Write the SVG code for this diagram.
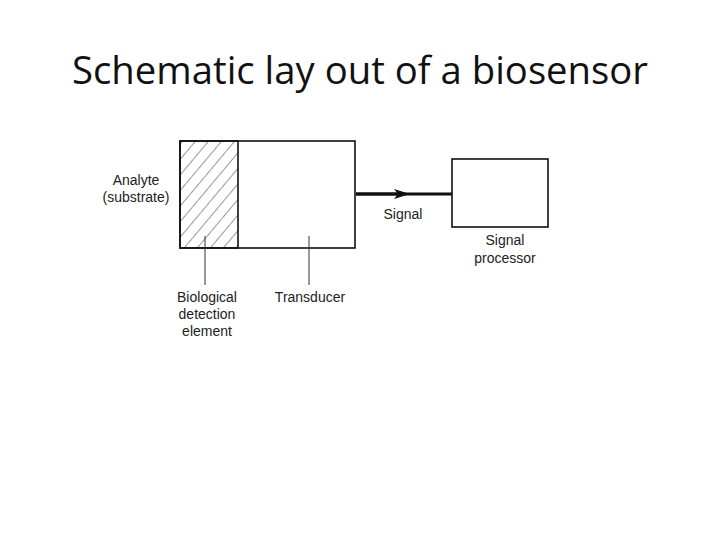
<svg xmlns="http://www.w3.org/2000/svg" width="720" height="540" viewBox="0 0 720 540">
<style>
.t{font-family:"Liberation Sans",Arial,sans-serif;font-size:14px;fill:#222}
.b{fill:none;stroke:#111;stroke-width:1.6}
.l{stroke:#333;stroke-width:1}
</style>
<defs>
<pattern id="h" width="10" height="10" patternUnits="userSpaceOnUse" patternTransform="rotate(40)">
<line x1="0" y1="0" x2="0" y2="10" stroke="#333" stroke-width="1"/>
</pattern>
<marker id="a" markerWidth="16" markerHeight="10" refX="8" refY="5" orient="auto" markerUnits="userSpaceOnUse">
<path d="M0,0 L16,5 L0,10 L4,5 Z" fill="#111"/>
</marker>
</defs>
<rect width="720" height="540" fill="#fff"/>
<text x="360" y="84" text-anchor="middle" font-family="'Open Sans','Liberation Sans',sans-serif" font-size="38" textLength="576" lengthAdjust="spacingAndGlyphs" fill="#111">Schematic lay out of a biosensor</text>
<g id="transducer">
<rect x="180" y="141" width="175" height="107" class="b"/>
<text x="310" y="302" class="t" text-anchor="middle">Transducer</text>
</g>
<g id="bio">
<rect x="180" y="141" width="58" height="107" style="fill:url(#h)" class="b"/>
<text x="207" y="302" class="t" text-anchor="middle">Biological</text>
<text x="207" y="319" class="t" text-anchor="middle">detection</text>
<text x="207" y="336" class="t" text-anchor="middle">element</text>
</g>
<g id="analyte">
<text x="136" y="185" class="t" text-anchor="middle">Analyte</text>
<text x="136" y="202" class="t" text-anchor="middle">(substrate)</text>
</g>
<g id="processor">
<rect x="452" y="159" width="96" height="68" class="b"/>
<text x="505" y="245" class="t" text-anchor="middle">Signal</text>
<text x="505" y="263" class="t" text-anchor="middle">processor</text>
</g>
<g id="connectors">
<line x1="356" y1="194" x2="452" y2="194" stroke="#111" stroke-width="3"/>
<line x1="356" y1="194" x2="402" y2="194" stroke="#111" stroke-width="3" marker-end="url(#a)"/>
<line x1="205" y1="236" x2="205" y2="285" class="l"/>
<line x1="309" y1="236" x2="309" y2="285" class="l"/>
<text x="403" y="219" class="t" text-anchor="middle">Signal</text>
</g>
</svg>
